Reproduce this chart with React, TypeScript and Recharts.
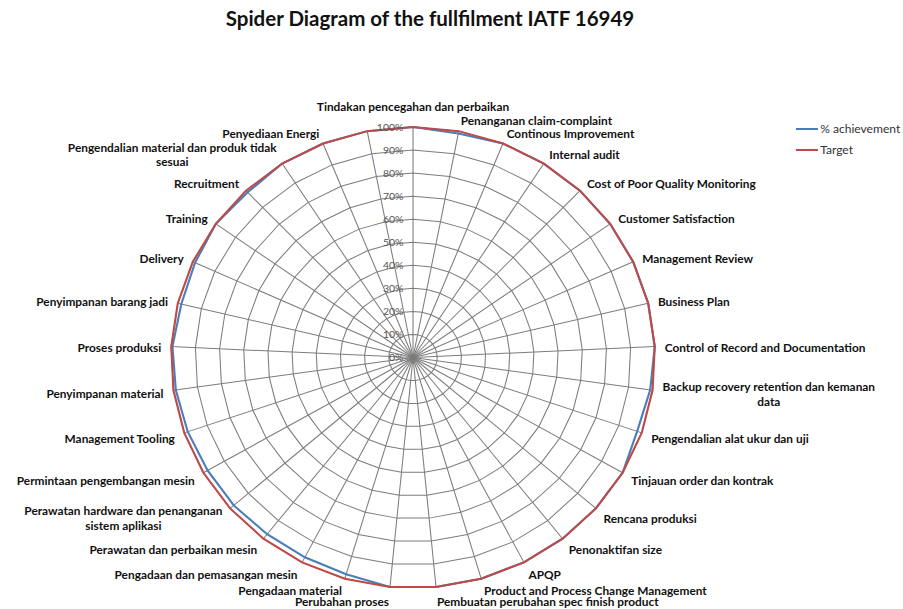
import React from 'react';
import { RadarChart, PolarGrid, PolarAngleAxis, PolarRadiusAxis, Radar, Legend } from 'recharts';

const categories = [
  'Tindakan pencegahan dan perbaikan',
  'Penanganan claim-complaint',
  'Continous Improvement',
  'Internal audit',
  'Cost of Poor Quality Monitoring',
  'Customer Satisfaction',
  'Management Review',
  'Business Plan',
  'Control of Record and Documentation',
  'Backup recovery retention dan kemanan\ndata',
  'Pengendalian alat ukur dan uji',
  'Tinjauan order dan kontrak',
  'Rencana produksi',
  'Penonaktifan size',
  'APQP',
  'Product and Process Change Management',
  'Pembuatan perubahan spec finish product',
  'Perubahan proses',
  'Pengadaan material',
  'Pengadaan dan pemasangan mesin',
  'Perawatan dan perbaikan mesin',
  'Perawatan hardware dan penanganan\nsistem aplikasi',
  'Permintaan pengembangan mesin',
  'Management Tooling',
  'Penyimpanan material',
  'Proses produksi',
  'Penyimpanan barang jadi',
  'Delivery',
  'Training',
  'Recruitment',
  'Pengendalian material dan produk tidak\nsesuai',
  'Penyediaan Energi',
  '',
];

const achievement = [
  100, 99, 100, 100, 100, 100, 100, 100, 100, 99, 98,
  100, 100, 100, 100, 100, 100, 100, 98, 97.5, 97.5, 98,
  98, 98.5, 99, 99.5, 98.5, 99, 100, 99, 100, 100, 100,
];

const target = [
  100, 100, 100, 100, 100, 100, 100, 100, 100, 100, 100,
  100, 100, 100, 100, 100, 100, 100, 100, 100, 100, 100,
  100, 100, 100, 100, 100, 100, 100, 100, 100, 100, 100,
];

const seriesNames = ['% achievement', 'Target'];
const seriesColors = ['#4a7ebb', '#be4b48'];

const data = categories.map((name, i) => ({
  name,
  achievement: achievement[i],
  target: target[i],
}));

// horizontal stretch of the whole plot (the reference is slightly wider than tall)
const SX = 1.05;
const CX = 413 / SX;
const CY = 357.5;
const R = 230.5;
const FONT = 'Lato, "Open Sans", sans-serif';
const LABEL_SIZE = 11.3;

let measureCtx: CanvasRenderingContext2D | null = null;
function measure(text: string): number {
  if (typeof document === 'undefined') return text.length * 6;
  if (!measureCtx) {
    const c = document.createElement('canvas');
    measureCtx = c.getContext('2d');
  }
  if (!measureCtx) return text.length * 6;
  measureCtx.font = `bold ${LABEL_SIZE}px Lato`;
  return measureCtx.measureText(text).width;
}

function AngleTick(props: any) {
  const { payload } = props;
  const value = String(payload?.value ?? '');
  if (!value) return null;
  const theta = ((90 - payload.coordinate) * Math.PI) / 180;
  const s = Math.sin(theta);
  const c = Math.cos(theta);
  const vx = CX + R * s;
  const vy = CY - R * c;
  const isTop = Math.abs(s) < 0.05 && c > 0;
  const anchor = Math.abs(s) < 0.05 ? 'middle' : s > 0 ? 'start' : 'end';
  const ax = vx + 9.5 * s;
  let dy = isTop ? -20 : c > 0 ? -13 * c + 2 : -12 * c + 2;
  if (c < -0.99) dy += 1;
  else if (c < -0.9) dy -= 2;
  const cyText = vy + dy;
  const lines = value.split('\n');
  const lineH = 14.5;
  const firstY = cyText - ((lines.length - 1) * lineH) / 2;
  if (lines.length > 1) {
    const w = Math.max(...lines.map(measure));
    const mid = anchor === 'start' ? ax + w / 2 : anchor === 'end' ? ax - w / 2 : ax;
    return (
      <g>
        {lines.map((l, i) => (
          <text key={i} x={mid} y={firstY + i * lineH} textAnchor="middle" dominantBaseline="central"
            fontFamily={FONT} fontSize={LABEL_SIZE} fontWeight="bold" fill="#111">
            {l}
          </text>
        ))}
      </g>
    );
  }
  return (
    <text x={ax} y={cyText} textAnchor={anchor} dominantBaseline="central"
      fontFamily={FONT} fontSize={LABEL_SIZE} fontWeight="bold" fill="#111">
      {value}
    </text>
  );
}

function RadiusTick(props: any) {
  const { x, y, payload } = props;
  return (
    <text x={x - 9} y={y} textAnchor="end" dominantBaseline="central"
      fontFamily={FONT} fontSize={10} fill="#555">
      {`${payload.value}%`}
    </text>
  );
}

function LegendContent() {
  return (
    <div style={{ fontFamily: FONT, fontSize: 11.5, color: '#333' }}>
      {seriesNames.map((n, i) => (
        <div key={n} style={{ display: 'flex', alignItems: 'center', height: 21 }}>
          <div style={{ width: 21, height: 2, background: seriesColors[i], marginRight: 2 }} />
          <span style={{ whiteSpace: 'nowrap' }}>{n}</span>
        </div>
      ))}
    </div>
  );
}

export default function App() {
  return (
    <div style={{ position: 'absolute', left: 0, top: 0, width: 903, height: 609, background: '#fff', overflow: 'hidden' }}>
      <div style={{ position: 'absolute', left: 0, top: 6, width: 860, textAlign: 'center', fontFamily: FONT, fontWeight: 'bold', fontSize: 20.5, color: '#111' }}>
        Spider Diagram of the fullfilment IATF 16949
      </div>
      <div style={{ position: 'absolute', left: 0, top: 0, width: 903 / SX, height: 609, transform: `scaleX(${SX})`, transformOrigin: '0 0' }}>
        <RadarChart width={903 / SX} height={609} data={data} cx={CX} cy={CY} outerRadius={R}
          margin={{ top: 0, right: 0, bottom: 0, left: 0 }}>
          <PolarGrid gridType="polygon" stroke="#7c7c7c" strokeWidth={1} />
          <PolarAngleAxis dataKey="name" tick={AngleTick} tickLine={false} axisLine={false} />
          <PolarRadiusAxis angle={90} domain={[0, 100]} tickCount={11} tick={RadiusTick} axisLine={false} tickLine={false} />
          <Radar name={seriesNames[0]} dataKey="achievement" stroke={seriesColors[0]} strokeWidth={2} fill="none" fillOpacity={0} dot={false} isAnimationActive={false} />
          <Radar name={seriesNames[1]} dataKey="target" stroke={seriesColors[1]} strokeWidth={2} fill="none" fillOpacity={0} dot={false} isAnimationActive={false} />
          <Legend content={LegendContent} wrapperStyle={{ position: 'absolute', left: 796 / SX, top: 118, width: 107 / SX }} />
        </RadarChart>
      </div>
    </div>
  );
}
